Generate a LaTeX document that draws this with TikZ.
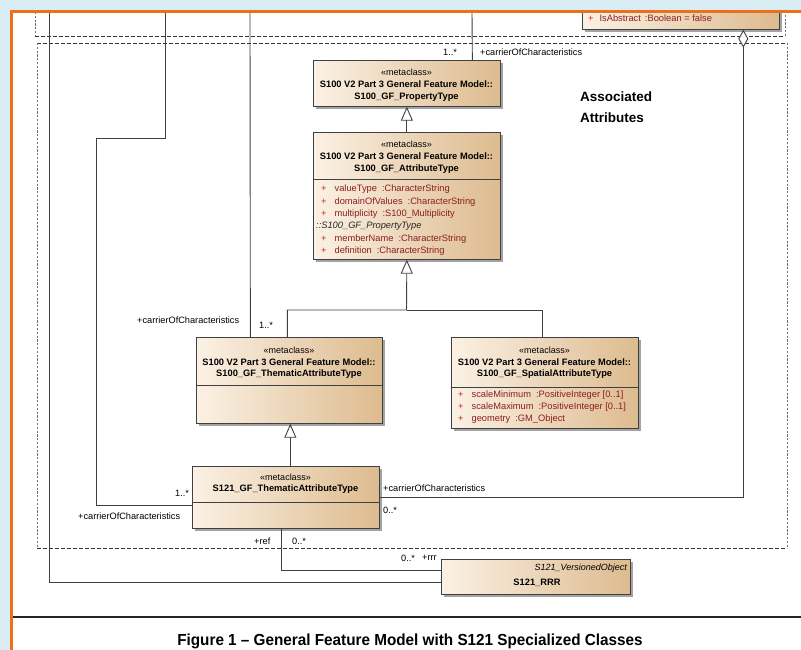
\documentclass[tikz,border=0pt]{standalone}
\usepackage{fontspec}
\usepackage{graphicx}
\setmainfont{Liberation Sans}
\usetikzlibrary{arrows.meta,shadows}
\definecolor{bgblue}{HTML}{D9ECF3}
\definecolor{frameorange}{HTML}{E8711A}
\definecolor{boxl}{HTML}{FBF1E4}
\definecolor{boxr}{HTML}{DDBB8F}
\definecolor{attrred}{HTML}{8B1E1E}
\definecolor{plusred}{HTML}{C8281E}
\definecolor{linegray}{HTML}{404040}
\definecolor{pkggray}{HTML}{707070}
\newcommand\myhdr{\bfseries\fontsize{9.3}{11}\selectfont}
\newcommand\myster{\fontsize{9}{11}\selectfont}
\newcommand\myattr{\fontsize{9.3}{11}\selectfont}
\newcommand\mylbl{\fontsize{9.2}{11}\selectfont}
\newcommand\mypls{\textcolor{plusred}{+}\hspace{8pt}}
\tikzset{
 cls/.style={draw=black!75, line width=0.7pt, left color=boxl, right color=boxr, anchor=north west, inner sep=0pt,
   drop shadow={shadow xshift=2.5pt, shadow yshift=-2.5pt, fill=black!60, opacity=0.6}},
 sepline/.style={draw=black!75, line width=0.7pt},
 hdr/.style={font=\myhdr, inner sep=0pt, anchor=center},
 ster/.style={font=\myster, inner sep=0pt, anchor=center},
 attr/.style={font=\myattr, text=attrred, inner sep=0pt, anchor=west},
 lbl/.style={font=\mylbl, inner sep=0pt, anchor=west},
 conn/.style={draw=linegray, line width=0.9pt},
 gen/.style={conn, -{Triangle[length=14pt, width=12pt, fill=white]}},
 agg/.style={conn, {Diamond[length=18pt, width=10pt, fill=white]}-},
 pkg/.style={draw=pkggray, line width=0.8pt, dash pattern=on 2.2pt off 1.6pt},
 pkgb/.style={draw=black!80, line width=0.8pt, dash pattern=on 3.5pt off 2.5pt},
}
\begin{document}
\begin{tikzpicture}[x=1pt,y=-1pt]
\useasboundingbox (0,0) rectangle (801,650);
\fill[bgblue] (0,0) rectangle (801,650);
\fill[white] (11,12) rectangle (801,650);

\begin{scope}
\clip (11,12) rectangle (801,650);
% partially visible class at the top right
\node[cls, minimum width=197pt, minimum height=25pt] (abs) at (582,4) {};
\node[attr] (absattr) at (588,18) {\textcolor{plusred}{+}\hspace{6pt}IsAbstract\hspace{4pt}:Boolean = false};

% packages
\draw[pkg] (35,12) -- (35,36);
\draw[pkgb] (35,36) -- (785,36);
\draw[pkg] (785,36) -- (785,12);
\draw[pkgb] (37,43) -- (787,43);
\draw[pkg] (37,43) -- (37,548);
\draw[pkg] (787,43) -- (787,548);
\draw[pkgb] (37,548) -- (787,548);

% classes
\node[cls, minimum width=187pt, minimum height=46pt] (prop) at (313,60) {};
\node[cls, minimum width=187pt, minimum height=127pt] (atype) at (313,132) {};
\node[cls, minimum width=186pt, minimum height=86pt] (them100) at (196,337) {};
\node[cls, minimum width=187pt, minimum height=91pt] (spat) at (451,337) {};
\node[cls, minimum width=187pt, minimum height=62pt] (them121) at (192,466) {};
\node[cls, minimum width=189pt, minimum height=35pt] (rrr) at (441,559) {};

\draw[sepline] (313,179) -- (500,179);
\draw[sepline] (196,385) -- (382,385);
\draw[sepline] (451,387) -- (638,387);
\draw[sepline] (192,502) -- (379,502);

% PropertyType
\node[ster] (propS) at (406.5,72) {«metaclass»};
\node[hdr] (propP) at (406.5,84) {S100 V2 Part 3 General Feature Model::};
\node[hdr] (propN) at (406.5,97) {S100\_GF\_PropertyType};
% AttributeType
\node[ster] (atS) at (406.5,144) {«metaclass»};
\node[hdr] (atP) at (406.5,156) {S100 V2 Part 3 General Feature Model::};
\node[hdr] (atN) at (406.5,169) {S100\_GF\_AttributeType};
\node[attr] (at1) at (321,189) {\mypls valueType\hspace{5pt}:CharacterString};
\node[attr] (at2) at (321,202) {\mypls domainOfValues\hspace{5pt}:CharacterString};
\node[attr] (at3) at (321,214) {\mypls multiplicity\hspace{5pt}:S100\_Multiplicity};
\node[attr, text=black!85, font=\myattr\itshape] (at4) at (316,226) {::S100\_GF\_PropertyType};
\node[attr] (at5) at (321,239) {\mypls memberName\hspace{5pt}:CharacterString};
\node[attr] (at6) at (321,251) {\mypls definition\hspace{5pt}:CharacterString};
% Thematic S100
\node[ster] (thS) at (289,350) {«metaclass»};
\node[hdr] (thP) at (289,362) {S100 V2 Part 3 General Feature Model::};
\node[hdr] (thN) at (289,374) {S100\_GF\_ThematicAttributeType};
% Spatial
\node[ster] (spS) at (544.5,350) {«metaclass»};
\node[hdr] (spP) at (544.5,362) {S100 V2 Part 3 General Feature Model::};
\node[hdr] (spN) at (544.5,374) {S100\_GF\_SpatialAttributeType};
\node[attr] (sp1) at (458,395) {\mypls scaleMinimum\hspace{5pt}:PositiveInteger [0..1]};
\node[attr] (sp2) at (458,407) {\mypls scaleMaximum\hspace{5pt}:PositiveInteger [0..1]};
\node[attr] (sp3) at (458,419) {\mypls geometry\hspace{5pt}:GM\_Object};
% Thematic S121
\node[ster] (t1S) at (285.5,477) {«metaclass»};
\node[hdr] (t1N) at (285.5,489) {S121\_GF\_ThematicAttributeType};
% RRR
\node[font=\myster\itshape, inner sep=0pt, anchor=east] (rrV) at (627,568) {S121\_VersionedObject};
\node[hdr] (rrN) at (537,583) {S121\_RRR};

% free ends of connectors entering from above
\coordinate (t49) at (49,12);
\coordinate (t165) at (165,12);
\coordinate (t250) at (250,12);
\coordinate (t472) at (472,12);
\coordinate (jn) at (406.5,310);
\coordinate (jogA) at (165,138);
\coordinate (jogB) at (96.5,138);

% connectors
\draw[conn] (t49) |- ([yshift=-5.5pt]rrr.west);
\draw[conn] (t165) -- (jogA) -- (jogB) |- ([yshift=-8pt]them121.west);
\draw[conn] (t250) -- ([xshift=-39pt]them100.north);
\draw[conn] (t472) -- ([xshift=65.5pt]prop.north);
\draw[gen] (atype.north) -- (prop.south);
\draw[gen] ([xshift=-2pt]them100.north) |- (jn) -- (atype.south);
\draw[conn] ([xshift=-2.5pt]spat.north) |- (jn);
\draw[gen] ([xshift=4.5pt]them121.north) -- ([xshift=1pt]them100.south);
\draw[conn] ([xshift=-4.5pt]them121.south) |- ([yshift=6.5pt]rrr.west);
\draw[agg] ([xshift=62.5pt]abs.south) |- (them121.east);

% connector labels
\node[lbl] (l1) at (443,52) {1..*};
\node[lbl] (l2) at (480,52) {+carrierOfCharacteristics};
\node[lbl] (l3) at (137,320) {+carrierOfCharacteristics};
\node[lbl] (l4) at (259,325) {1..*};
\node[lbl] (l5) at (175,493) {1..*};
\node[lbl] (l6) at (78,516) {+carrierOfCharacteristics};
\node[lbl] (l7) at (383,488) {+carrierOfCharacteristics};
\node[lbl] (l8) at (383,510) {0..*};
\node[lbl] (l9) at (254,541) {+ref};
\node[lbl] (l10) at (292,541) {0..*};
\node[lbl] (l11) at (401,558) {0..*};
\node[lbl] (l12) at (422,558) {+rrr};

% package title
\node[font=\bfseries\fontsize{13.5}{15}\selectfont, inner sep=0pt, anchor=west] (pk1) at (580,97) {Associated};
\node[font=\bfseries\fontsize{13.5}{15}\selectfont, inner sep=0pt, anchor=west] (pk2) at (580,118) {Attributes};
\end{scope}

% frame, rule and caption
\draw[black!85, line width=1.2pt] (11,617) -- (801,617);
\draw[frameorange, line width=3pt] (11,650) -- (11,12) -- (801,12);
\node[font=\bfseries\fontsize{16}{18}\selectfont, inner sep=0pt] (cap) at (410,641) {\scalebox{0.955}[1]{Figure 1 – General Feature Model with S121 Specialized Classes}};
\end{tikzpicture}
\end{document}
